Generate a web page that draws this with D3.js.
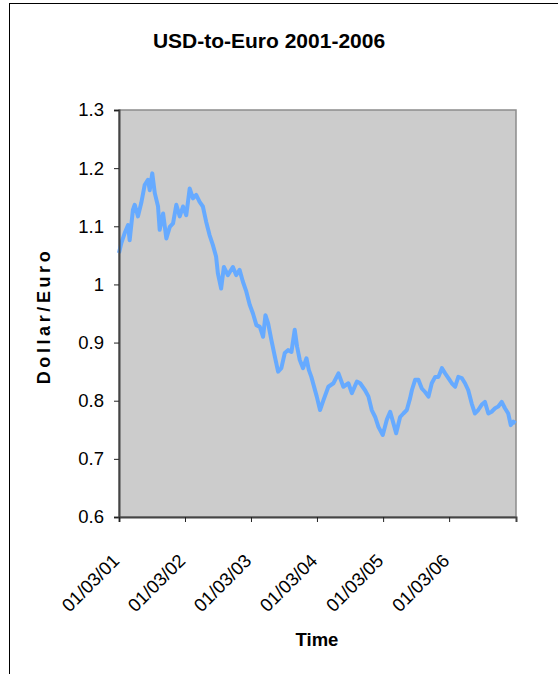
<!DOCTYPE html>
<html>
<head>
<meta charset="utf-8">
<script src="https://cdn.jsdelivr.net/npm/d3@7"></script>
<style>
  html, body { margin: 0; padding: 0; background: #fff; }
  svg { display: block; }
  text { font-family: "Liberation Sans", Arial, sans-serif; fill: #000; }
</style>
</head>
<body>
<script>
// ---- data ----
const dates = [
  "2001-01-03","2001-01-16","2001-02-03","2001-02-22","2001-03-03","2001-03-21","2001-03-31","2001-04-18",
  "2001-05-06","2001-05-25","2001-06-12","2001-06-22","2001-07-06","2001-07-20","2001-08-07","2001-08-16",
  "2001-09-04","2001-09-22","2001-10-11","2001-10-29","2001-11-16","2001-12-05","2001-12-23","2002-01-10",
  "2002-01-29","2002-02-16","2002-03-06","2002-03-25","2002-04-12","2002-04-30","2002-05-19","2002-06-06",
  "2002-06-24","2002-07-04","2002-07-22","2002-08-06","2002-08-28","2002-09-25","2002-10-13","2002-11-01",
  "2002-11-19","2002-12-08","2002-12-27","2003-01-14","2003-02-02","2003-02-21","2003-03-11","2003-03-24",
  "2003-04-08","2003-04-26","2003-05-15","2003-06-02","2003-06-20","2003-07-09","2003-07-27","2003-08-15",
  "2003-09-02","2003-09-15","2003-09-30","2003-10-18","2003-11-06","2003-11-19","2003-12-03","2004-01-02",
  "2004-01-20","2004-02-08","2004-03-06","2004-04-03","2004-05-01","2004-05-28","2004-06-25","2004-07-14",
  "2004-08-11","2004-08-29","2004-09-25","2004-10-14","2004-11-01","2004-11-20","2004-12-08","2005-01-01",
  "2005-01-23","2005-02-11","2005-03-01","2005-03-16","2005-04-07","2005-04-25","2005-05-14","2005-06-01",
  "2005-06-11","2005-06-29","2005-07-17","2005-08-05","2005-08-23","2005-09-11","2005-09-29","2005-10-18",
  "2005-11-05","2005-11-24","2005-12-12","2005-12-30","2006-01-18","2006-02-05","2006-02-23","2006-03-14",
  "2006-04-01","2006-04-19","2006-05-08","2006-05-26","2006-06-13","2006-07-02","2006-07-20","2006-08-08",
  "2006-08-26","2006-09-14","2006-10-02","2006-10-21","2006-11-08","2006-11-26","2006-12-10","2006-12-24",
  "2007-01-05"
];
const values = [
  1.054,1.071,1.088,1.102,1.076,1.128,1.137,1.117,
  1.140,1.171,1.180,1.162,1.191,1.157,1.134,1.094,
  1.122,1.079,1.099,1.105,1.137,1.117,1.134,1.119,
  1.165,1.148,1.154,1.142,1.134,1.108,1.085,1.068,
  1.048,1.019,0.993,1.030,1.016,1.030,1.016,1.025,
  1.005,0.988,0.965,0.950,0.930,0.927,0.910,0.947,
  0.933,0.904,0.876,0.850,0.856,0.882,0.887,0.884,
  0.922,0.893,0.870,0.856,0.873,0.853,0.841,0.807,
  0.784,0.801,0.824,0.830,0.847,0.824,0.830,0.813,
  0.833,0.830,0.818,0.807,0.784,0.772,0.755,0.741,
  0.767,0.781,0.761,0.744,0.772,0.778,0.784,0.804,
  0.818,0.836,0.836,0.821,0.815,0.807,0.830,0.841,
  0.841,0.856,0.847,0.839,0.830,0.824,0.841,0.839,
  0.830,0.818,0.795,0.778,0.784,0.793,0.798,0.778,
  0.781,0.787,0.790,0.798,0.787,0.778,0.758,0.764,
  0.761
];
const xTickDates = ["2001-01-03","2002-01-03","2003-01-03","2004-01-03","2005-01-03","2006-01-03"];
const xTickLabels = ["01/03/01","01/03/02","01/03/03","01/03/04","01/03/05","01/03/06"];
const yTicks = [0.6, 0.7, 0.8, 0.9, 1.0, 1.1, 1.2, 1.3];
const yTickLabels = ["0.6","0.7","0.8","0.9","1","1.1","1.2","1.3"];
const titleText = "USD-to-Euro 2001-2006";
const xTitle = "Time";
const yTitle = "Dollar/Euro";

// ---- layout ----
const W = 558, H = 674;
const plot = { left: 119, top: 110, right: 516, bottom: 517 };
const parse = d3.utcParse("%Y-%m-%d");

const svg = d3.select("body").append("svg").attr("width", W).attr("height", H);

// outer chart border (extends beyond window on right/bottom)
svg.append("rect").attr("x", 9.5).attr("y", 3.5).attr("width", 700).attr("height", 800)
  .attr("fill", "#fff").attr("stroke", "#000").attr("stroke-width", 1);

const x = d3.scaleUtc().domain([parse("2001-01-03"), parse("2007-01-08")]).range([plot.left, plot.right]);
const y = d3.scaleLinear().domain([0.6, 1.3]).range([plot.bottom, plot.top]);

// plot area
svg.append("rect").attr("x", plot.left).attr("y", plot.top)
  .attr("width", plot.right - plot.left).attr("height", plot.bottom - plot.top)
  .attr("fill", "#cccccc").attr("stroke", "#8c8c8c").attr("stroke-width", 1.5);

// line
const data = dates.map((d, i) => ({ date: parse(d), v: values[i] }));
const line = d3.line().x(d => x(d.date)).y(d => y(d.v));
svg.append("path").datum(data).attr("d", line)
  .attr("fill", "none").attr("stroke", "#66aaff").attr("stroke-width", 4)
  .attr("stroke-linejoin", "round");

// y axis
const yAxis = d3.axisLeft(y).tickValues(yTicks).tickSize(5).tickPadding(10)
  .tickFormat((d, i) => yTickLabels[i]);
const gy = svg.append("g").attr("transform", `translate(${plot.left},0)`).call(yAxis);
gy.select(".domain").attr("stroke", "#444").attr("stroke-width", 2);
gy.selectAll(".tick line").attr("stroke", "#222").attr("stroke-width", 1);
gy.selectAll(".tick text").style("font-size", "18.5px").style("font-family", "Liberation Sans, Arial, sans-serif").attr("fill", "#000");

// x axis
const xAxis = d3.axisBottom(x).tickValues(xTickDates.map(parse)).tickSize(5)
  .tickFormat((d, i) => xTickLabels[i]);
const gx = svg.append("g").attr("transform", `translate(0,${plot.bottom})`).call(xAxis);
gx.select(".domain").attr("stroke", "#444").attr("stroke-width", 2);
gx.selectAll(".tick line").attr("stroke", "#222").attr("stroke-width", 1);
gx.selectAll(".tick text")
  .style("font-size", "18.5px").style("font-family", "Liberation Sans, Arial, sans-serif").attr("fill", "#000")
  .attr("text-anchor", "end").attr("dy", null).attr("y", null)
  .attr("transform", "translate(1,45) rotate(-45)");

// titles
svg.append("text").attr("x", 269).attr("y", 48).attr("text-anchor", "middle")
  .style("font-size", "21px").style("font-weight", "bold").text(titleText);
svg.append("text").attr("x", 317).attr("y", 646).attr("text-anchor", "middle")
  .style("font-size", "18.5px").style("font-weight", "bold").text(xTitle);
svg.append("text").attr("transform", "translate(50,316) rotate(-90)").attr("text-anchor", "middle")
  .style("font-size", "18px").style("font-weight", "bold").style("letter-spacing", "3.6px").text(yTitle);
</script>
</body>
</html>
